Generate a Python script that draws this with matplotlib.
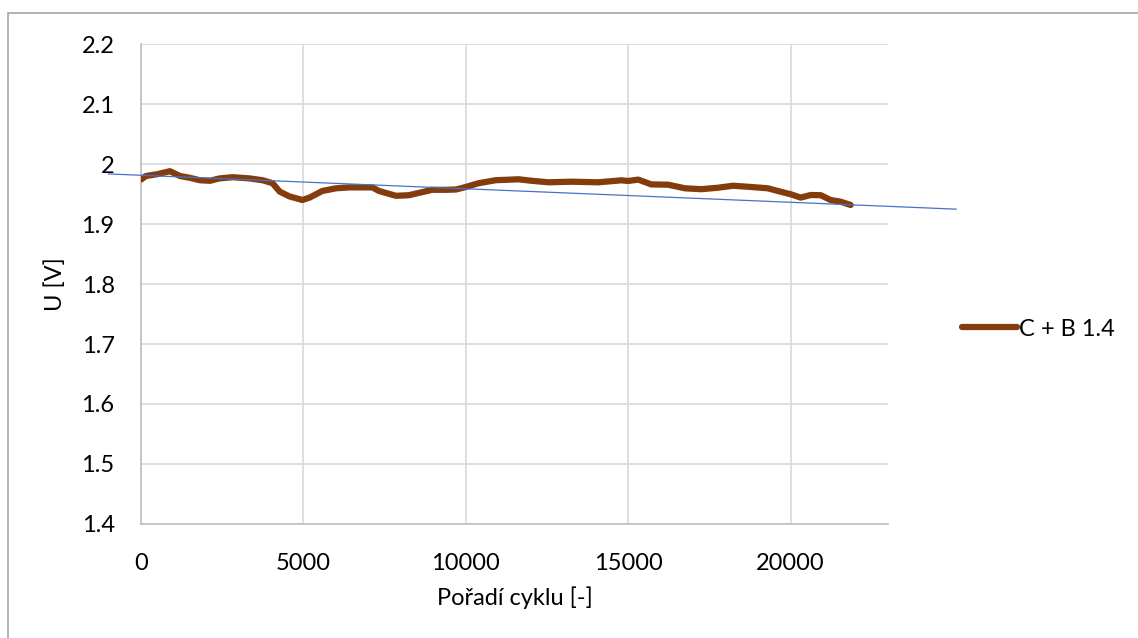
import numpy as np
import matplotlib.pyplot as plt
from matplotlib.patches import Rectangle

# Data
cycle = [0, 150, 500, 890, 1200, 1500, 1810, 2120, 2420, 2820, 3340, 3740, 4050,
         4270, 4570, 4970, 5190, 5580, 6000, 6410, 7120, 7330, 7850, 8250, 8650,
         8960, 9390, 9700, 10000, 10400, 10920, 11630, 12030, 12550, 13260,
         14080, 14790, 15000, 15310, 15710, 16230, 16750, 17250, 17770, 18230,
         18780, 19300, 19610, 20010, 20310, 20620, 20930, 21230, 21540, 21850]
voltage = [1.974, 1.980, 1.983, 1.988, 1.980, 1.977, 1.973, 1.972, 1.976, 1.978,
           1.976, 1.973, 1.968, 1.954, 1.946, 1.940, 1.944, 1.955, 1.9595, 1.961,
           1.961, 1.955, 1.947, 1.948, 1.953, 1.957, 1.957, 1.9575, 1.9617,
           1.968, 1.973, 1.9745, 1.972, 1.9695, 1.9705, 1.9695, 1.9728, 1.9717,
           1.974, 1.966, 1.9655, 1.9595, 1.958, 1.9605, 1.9638, 1.9617, 1.9595,
           1.955, 1.9495, 1.944, 1.9483, 1.948, 1.940, 1.9372, 1.9317]
series_name = "C + B 1.4"

# linear trend, drawn with forecast on both sides
trend_intercept = 1.9812
trend_slope = -2.25e-6
trend_x = np.array([-1000, 25100])
trend_y = trend_intercept + trend_slope * trend_x

x_ticks = [0, 5000, 10000, 15000, 20000]
y_ticks = [1.4, 1.5, 1.6, 1.7, 1.8, 1.9, 2.0, 2.1, 2.2]
y_labels = ["1.4", "1.5", "1.6", "1.7", "1.8", "1.9", "2", "2.1", "2.2"]

plt.rcParams['font.family'] = ['Lato', 'DejaVu Sans']
fs = 17

fig = plt.figure(figsize=(11.38, 6.38), dpi=100)
ax = fig.add_axes([141 / 1138, 1 - 524 / 638, (888 - 141) / 1138, (524 - 44) / 638])

line, = ax.plot(cycle, voltage, color='#843C0C', lw=4.5, solid_capstyle='round',
                solid_joinstyle='round', zorder=3)
ax.plot(trend_x, trend_y, color='#4472C4', lw=0.9, clip_on=False, zorder=4)

ax.set_xlim(0, 23000)
ax.set_ylim(1.4, 2.2)
ax.set_xticks(x_ticks)
ax.set_xticklabels([str(v) for v in x_ticks])
ax.set_yticks(y_ticks)
ax.set_yticklabels(y_labels)
ax.tick_params(length=0, labelsize=fs, colors='black')
ax.tick_params(axis='x', pad=21)
ax.tick_params(axis='y', pad=19)

ax.grid(True, color='#d9d9d9', lw=1.2)
ax.set_axisbelow(True)
for side in ['top', 'right']:
    ax.spines[side].set_visible(False)
for side in ['left', 'bottom']:
    ax.spines[side].set_color('#bfbfbf')
    ax.spines[side].set_linewidth(1.2)

ax.set_xlabel("Pořadí cyklu [-]", fontsize=fs, labelpad=9)
ax.set_ylabel("U [V]", fontsize=fs, labelpad=11)

fig.legend([line], [series_name], loc='center left',
           bbox_to_anchor=(941 / 1138, 1 - 329 / 638), frameon=False,
           fontsize=fs, handlelength=2.3, handletextpad=0.1)

# outer chart frame (only left and top edges fall inside the image)
fig.patches.append(Rectangle((8 / 1138, -0.1), 1.2, 1 - 13 / 638 + 0.1,
                             transform=fig.transFigure, fill=False,
                             edgecolor='#a6a6a6', lw=1.2))

fig.savefig("out.png", dpi=100)
